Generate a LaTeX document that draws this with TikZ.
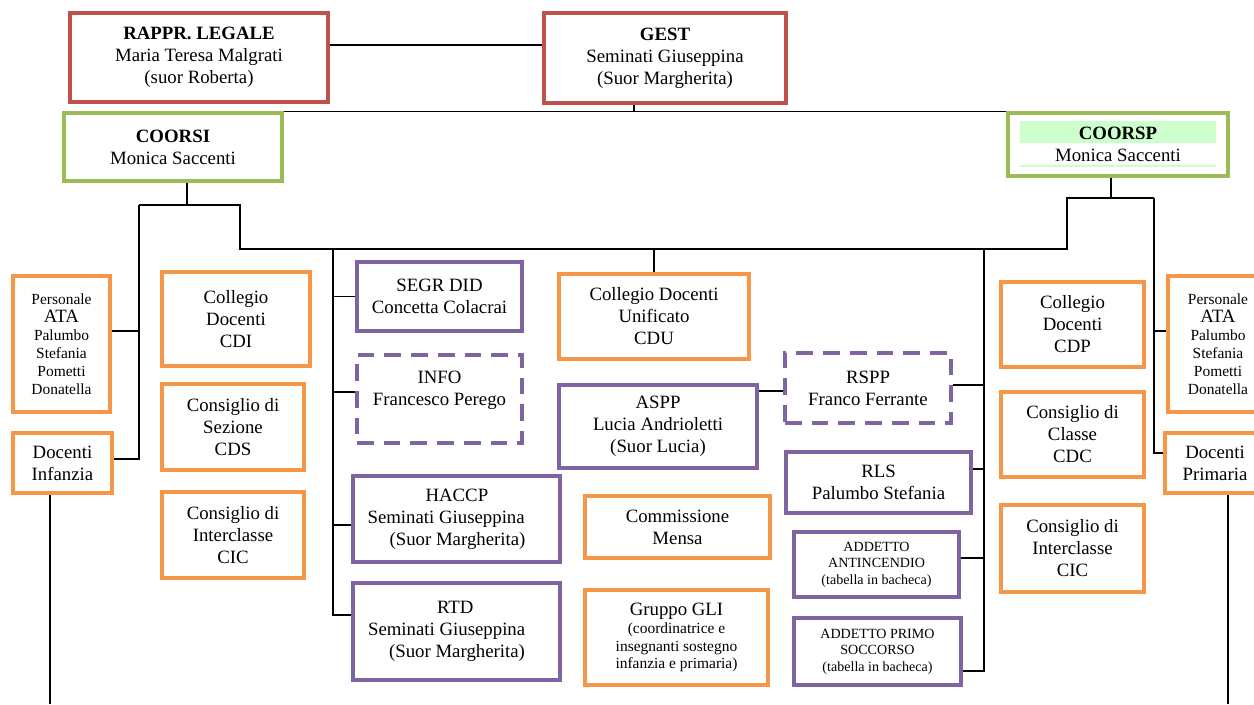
\documentclass[tikz,border=0pt]{standalone}
\usepackage{fontspec}
\setmainfont{Liberation Serif}
\usepackage{tikz}

\definecolor{boxred}{HTML}{C0504D}
\definecolor{boxgreen}{HTML}{9BBB59}
\definecolor{boxorange}{HTML}{F79646}
\definecolor{boxpurple}{HTML}{8064A2}
\definecolor{hlgreen}{HTML}{CCFFCC}

\begin{document}
\begin{tikzpicture}[x=0.02cm,y=-0.02cm,
  every node/.style={align=center,inner sep=0pt,font=\fontsize{10.7}{12.5}\selectfont},
  wh/.style 2 args={minimum width=#1*0.02cm,minimum height=#2*0.02cm},
  red node/.style={draw=boxred,line width=1.8pt},
  green node/.style={draw=boxgreen,line width=1.8pt},
  org node/.style={draw=boxorange,line width=2pt},
  pur node/.style={draw=boxpurple,line width=1.8pt},
  dash node/.style={pur node,dash pattern=on 9.5pt off 5.7pt},
  small node/.style={font=\fontsize{8.8}{10.2}\selectfont},
  tiny node/.style={font=\fontsize{8}{9.4}\selectfont},
  conn/.style={black,line width=0.7pt}]
  \useasboundingbox (0,0) rectangle (1254,704);

  \node[red node,wh={258}{89}] (1) at (199,57.5) {\textbf{RAPPR. LEGALE}\\Maria Teresa Malgrati\\(suor Roberta)};
  \node[red node,wh={242}{90}] (2) at (665,58) {\textbf{GEST}\\Seminati Giuseppina\\(Suor Margherita)};
  \fill[hlgreen] (1020,121) rectangle (1216,143);
  \fill[hlgreen] (1020,165) rectangle (1216,167);
  \node[green node,wh={218}{68}] (3) at (173,147) {\textbf{COORSI}\\Monica Saccenti};
  \node[green node,wh={220}{63}] (4) at (1118,144.5) {\textbf{COORSP}\\Monica Saccenti};

  \node[org node,small node,wh={97}{136}] (5) at (61.5,344) {Personale\\{\fontsize{10.7}{12}\selectfont ATA}\\Palumbo\\Stefania\\Pometti\\Donatella};
  \node[org node,wh={99}{60}] (6) at (62.5,463) {Docenti\\Infanzia};
  \node[org node,wh={148}{94}] (7) at (236,319) {Collegio\\Docenti\\CDI};
  \node[org node,wh={142}{86}] (8) at (233,427) {Consiglio di\\Sezione\\CDS};
  \node[org node,wh={142}{86}] (9) at (233,535) {Consiglio di\\Interclasse\\CIC};

  \node[pur node,wh={165}{69}] (10) at (439.5,296.5) {SEGR DID\\Concetta Colacrai};
  \node[dash node,wh={165}{88}] (11) at (439.5,399) {INFO\\Francesco Perego\\~};
  \node[org node,wh={190}{85}] (12) at (654,316.5) {Collegio Docenti\\Unificato\\CDU};
  \node[pur node,wh={198}{83}] (13) at (658,426.5) {ASPP\\Lucia Andrioletti\\(Suor Lucia)};
  \node[pur node,wh={207}{86},align=left] (14) at (456.5,519) {\hspace*{1.16cm}HACCP\\Seminati Giuseppina\\\hspace*{.44cm}(Suor Margherita)\hspace*{.4cm}};
  \node[pur node,wh={207}{97},align=left] (15) at (456.5,631.5) {\hspace*{1.38cm}RTD\\Seminati Giuseppina\\\hspace*{.42cm}(Suor Margherita)\hspace*{.4cm}};
  \node[org node,wh={185}{62}] (16) at (677.5,527) {Commissione\\Mensa};
  \node[org node,small node,wh={183}{95}] (17) at (676.5,637.5) {{\fontsize{10.7}{12.5}\selectfont Gruppo GLI}\\(coordinatrice e\\insegnanti sostegno\\infanzia e primaria)};

  \node[dash node,wh={166}{70}] (18) at (868,388) {RSPP\\Franco Ferrante};
  \node[pur node,wh={185}{61}] (19) at (878.5,482.5) {RLS\\Palumbo Stefania};
  \node[pur node,tiny node,wh={165}{65}] (20) at (876.5,564.5) {ADDETTO\\ANTINCENDIO\\(tabella in bacheca)};
  \node[pur node,tiny node,wh={167}{67}] (21) at (877.5,651.5) {ADDETTO PRIMO\\SOCCORSO\\(tabella in bacheca)};

  \node[org node,wh={143}{85}] (22) at (1072.5,324.5) {Collegio\\Docenti\\CDP};
  \node[org node,wh={143}{85}] (23) at (1072.5,434.5) {Consiglio di\\Classe\\CDC};
  \node[org node,wh={143}{87}] (24) at (1072.5,548.5) {Consiglio di\\Interclasse\\CIC};
  \node[org node,small node,wh={100}{136}] (25) at (1218,344) {Personale\\{\fontsize{10.7}{12}\selectfont ATA}\\Palumbo\\Stefania\\Pometti\\Donatella};
  \node[org node,wh={100}{60}] (26) at (1215,463) {Docenti\\Primaria};

  \coordinate (a) at (187,205);
  \coordinate (b) at (139,205);
  \coordinate (c) at (240,205);
  \coordinate (d) at (240,249);
  \coordinate (e) at (1067,249);
  \coordinate (f) at (1067,198);
  \coordinate (g) at (1154,198);
  \coordinate (h) at (1111,198);
  \coordinate (k) at (333,249);
  \coordinate (l) at (333,615);
  \coordinate (m) at (984,249);
  \coordinate (n) at (984,671);
  \coordinate (p) at (50,704);
  \coordinate (q) at (1228,704);

  \path[conn]
    ([yshift=.25cm]1.east) edge ([yshift=.25cm]1.east -| 2.west)
    (3.north east) edge (4.north west)
    ([xshift=-.62cm]2.south) edge ([xshift=-.62cm]2.south |- 3.north)
    (3.south -| a) edge (a)
    (h |- 4.south) edge (h)
    (12.north) edge (12.north |- k)
    (6.south -| p) edge (p)
    (26.south -| q) edge (q);
  \draw[conn] (b) -- (c) -- (d) -- (e) -- (f) -- (g);
  \draw[conn] (b) |- ([yshift=.08cm]6.east);
  \draw[conn] ([yshift=.26cm]5.east) -- ([yshift=.26cm]5.east -| b);
  \draw[conn] (g) |- ([yshift=.2cm]26.west);
  \draw[conn] ([yshift=.26cm]25.west) -- ([yshift=.26cm]25.west -| g);
  \draw[conn] (k) -- (l) -- (l -| 15.west);
  \draw[conn] (10.west) -- (10.west -| k);
  \draw[conn] ([yshift=.14cm]11.west) -- ([yshift=.14cm]11.west -| k);
  \draw[conn] ([yshift=-.12cm]14.west) -- ([yshift=-.12cm]14.west -| k);
  \draw[conn] ([yshift=.71cm]13.east) -- ([yshift=.71cm]13.east -| 18.west);
  \draw[conn] (m) -- (n) -- (n -| 21.east);
  \draw[conn] ([yshift=.06cm]18.east) -- ([yshift=.06cm]18.east -| m);
  \draw[conn] ([yshift=.27cm]19.east) -- ([yshift=.27cm]19.east -| m);
  \draw[conn] ([yshift=.13cm]20.east) -- ([yshift=.13cm]20.east -| m);
\end{tikzpicture}
\end{document}
